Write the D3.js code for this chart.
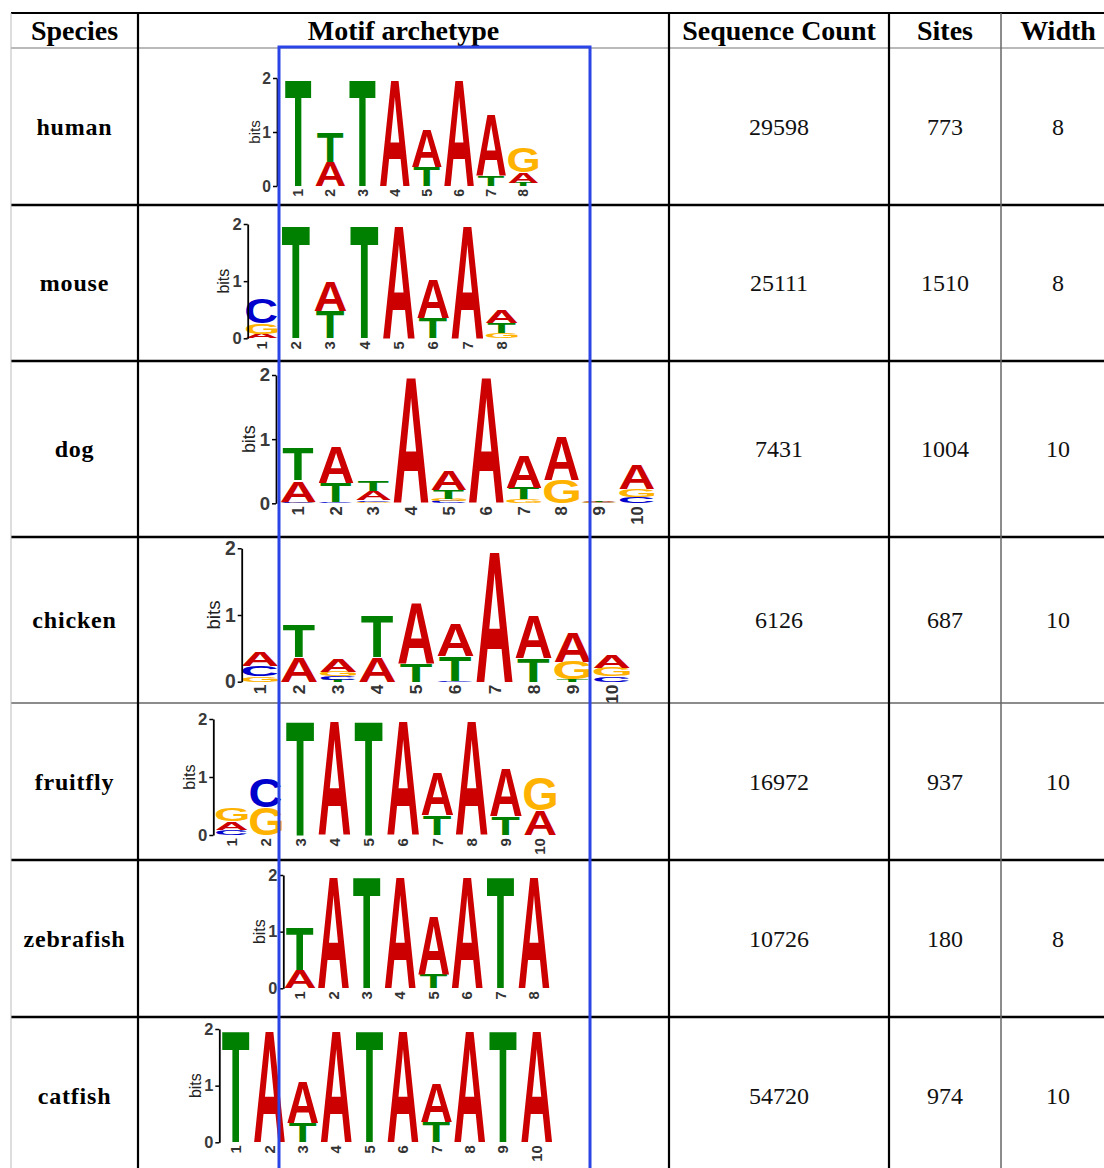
<!DOCTYPE html>
<html>
<head>
<meta charset="utf-8">
<script src="https://cdn.jsdelivr.net/npm/d3@7"></script>
<style>
  html, body { margin: 0; padding: 0; background: #fff; }
  svg { display: block; }
</style>
</head>
<body>
<svg id="chart" width="1104" height="1168"></svg>
<script>
// ---- table content ----
const headers = ["Species", "Motif archetype", "Sequence Count", "Sites", "Width"];
const species = ["human", "mouse", "dog", "chicken", "fruitfly", "zebrafish", "catfish"];
const sequenceCounts = [29598, 25111, 7431, 6126, 16972, 10726, 54720];
const siteCounts = [773, 1510, 1004, 687, 937, 180, 974];
const motifWidths = [8, 8, 10, 10, 10, 8, 10];
const bitTicks = [0, 1, 2];

// ---- motif letter heights (bits) per position ----
const humanMotif = [
  { T: 1.97 }, { A: 0.45, T: 0.54 }, { T: 1.97 }, { A: 1.97 },
  { T: 0.36, A: 0.69 }, { A: 1.97 }, { T: 0.2, A: 1.13 }, { T: 0.06, A: 0.2, G: 0.45 }
];
const mouseMotif = [
  { A: 0.08, G: 0.18, C: 0.44 }, { T: 1.97 }, { T: 0.47, A: 0.51 }, { T: 1.97 },
  { A: 1.97 }, { T: 0.36, A: 0.68 }, { A: 1.97 }, { G: 0.09, T: 0.17, A: 0.23 }
];
const dogMotif = [
  { G: 0.012, C: 0.014, A: 0.33, T: 0.5 }, { C: 0.02, T: 0.3, A: 0.56 },
  { G: 0.025, C: 0.026, A: 0.14, T: 0.16 }, { A: 1.97 },
  { C: 0.03, G: 0.04, T: 0.13, A: 0.31 }, { A: 1.97 },
  { G: 0.06, T: 0.18, A: 0.51 }, { G: 0.36, A: 0.68 },
  { C: 0.008, G: 0.009, T: 0.01, A: 0.012 }, { C: 0.1, G: 0.13, A: 0.39 }
];
const chickenMotif = [
  { G: 0.08, C: 0.15, A: 0.21 }, { A: 0.37, T: 0.49 }, { T: 0.03, C: 0.05, G: 0.07, A: 0.2 },
  { A: 0.37, T: 0.63 }, { T: 0.28, A: 0.91 }, { C: 0.012, T: 0.37, A: 0.48 },
  { A: 1.97 }, { T: 0.35, A: 0.64 }, { T: 0.03, G: 0.27, A: 0.45 }, { C: 0.08, G: 0.13, A: 0.2 }
];
const fruitflyMotif = [
  { C: 0.09, A: 0.14, G: 0.23 }, { G: 0.48, C: 0.5 }, { T: 1.97 }, { A: 1.97 },
  { T: 1.97 }, { A: 1.97 }, { T: 0.34, A: 0.74 }, { A: 1.97 }, { T: 0.32, A: 0.82 }, { A: 0.43, G: 0.56 }
];
const zebrafishMotif = [
  { A: 0.32, T: 0.76 }, { A: 1.97 }, { T: 1.97 }, { A: 1.97 },
  { T: 0.24, A: 1.04 }, { A: 1.97 }, { T: 1.97 }, { A: 1.97 }
];
const catfishMotif = [
  { T: 1.97 }, { A: 1.97 }, { T: 0.34, A: 0.73 }, { A: 1.97 }, { T: 1.97 },
  { A: 1.97 }, { T: 0.36, A: 0.68 }, { A: 1.97 }, { T: 1.97 }, { A: 1.97 }
];
const motifs = [humanMotif, mouseMotif, dogMotif, chickenMotif, fruitflyMotif, zebrafishMotif, catfishMotif];

// ---- layout ----
const colX = [11, 138, 669, 889, 1001, 1115];
const rowY = [13, 48, 205, 361, 537, 703, 860, 1017, 1175];
const hLineStyle = ["#000", "#777", "#000", "#000", "#000", "#666", "#000", "#000"];
const hLineWidth = [2, 1.2, 2.5, 2.5, 2.5, 1.5, 2.5, 2.5];
const vLineStyle = ["#bbb", "#000", "#000", "#000", "#666"];
const vLineWidth = [1, 2.2, 2.2, 2.2, 1.5];

// logo frames: spine x, baseline y, 2-bit y, first column centre, column step
const logoFrames = [
  { axisX: 277, base: 186, top: 78, firstX: 298.3, step: 32.14 },
  { axisX: 247.7, base: 338.3, top: 224, firstX: 261.7, step: 34.29 },
  { axisX: 276, base: 503.3, top: 375, firstX: 298.3, step: 37.6 },
  { axisX: 241.7, base: 681.7, top: 548.3, firstX: 260, step: 39.08 },
  { axisX: 213.3, base: 835, top: 719, firstX: 231.7, step: 34.26 },
  { axisX: 283.3, base: 988.3, top: 875, firstX: 300, step: 33.43 },
  { axisX: 219.3, base: 1142.3, top: 1029, firstX: 236, step: 33.4 }
];

const baseColor = { A: "#cc0000", C: "#0000cc", G: "#ffb300", T: "#008000" };
const serif = "'Liberation Serif', 'Times New Roman', serif";
const sans = "'Liberation Sans', Arial, Helvetica, sans-serif";

const svg = d3.select("#chart");

// ---- glyph ink bounds, measured once ----
const glyphSize = 100;
const measureCtx = document.createElement("canvas").getContext("2d");
measureCtx.font = `bold ${glyphSize}px ${sans}`;
const fallbackInk = {
  A: { l: 0.2, r: 72, a: 71.6, d: 0 }, C: { l: -4, r: 68, a: 73.5, d: 1.5 },
  G: { l: -4, r: 73, a: 73.5, d: 1.5 }, T: { l: -2, r: 59, a: 71.6, d: 0 }
};
const ink = {};
for (const b of "ACGT") {
  const m = measureCtx.measureText(b);
  const l = m.actualBoundingBoxLeft, r = m.actualBoundingBoxRight;
  const a = m.actualBoundingBoxAscent, d = m.actualBoundingBoxDescent;
  ink[b] = (Number.isFinite(a) && a > 0) ? { l, r, a, d } : fallbackInk[b];
}
const inkW = b => ink[b].r + ink[b].l;
const inkH = b => ink[b].a + ink[b].d;

// ---- logos ----
motifs.forEach((motif, i) => {
  const f = logoFrames[i];
  const ppb = (f.base - f.top) / 2;
  const y = d3.scaleLinear().domain([0, 2]).range([f.base, f.top]);
  const x = d3.scaleLinear().domain([1, motif.length])
    .range([f.firstX, f.firstX + (motif.length - 1) * f.step]);
  const sx = (f.step * 0.93) / inkW("A");

  const g = svg.append("g").attr("class", "logo");

  motif.forEach((col, p) => {
    const stack = Object.entries(col).sort((a, b) => a[1] - b[1]);
    let acc = 0;
    stack.forEach(([b, h]) => {
      const yBottom = y(acc), yTop = y(acc + h);
      acc += h;
      const sy = (yBottom - yTop) / inkH(b);
      const cx = x(p + 1);
      const tx = cx - sx * (ink[b].r - ink[b].l) / 2;
      const ty = yBottom - ink[b].d * sy;
      g.append("text")
        .attr("transform", `translate(${tx},${ty}) scale(${sx},${sy})`)
        .attr("font-family", sans)
        .attr("font-weight", "bold")
        .attr("font-size", glyphSize)
        .attr("fill", baseColor[b])
        .text(b);
    });
  });

  // y axis
  const axis = d3.axisLeft(y).tickValues(bitTicks).tickFormat(d3.format("d"))
    .tickSize(4).tickSizeOuter(0).tickPadding(2);
  const ag = g.append("g").attr("transform", `translate(${f.axisX},0)`).call(axis);
  ag.select(".domain").attr("stroke", "#000").attr("stroke-width", 1.8);
  ag.selectAll(".tick line").attr("stroke", "#000").attr("stroke-width", 1.5);
  ag.selectAll(".tick text")
    .attr("font-family", sans).attr("font-weight", "bold")
    .attr("font-size", ppb * 0.29).attr("fill", "#3a3a3a");

  // "bits" label
  g.append("text")
    .attr("transform", `translate(${f.axisX - ppb * 0.42},${y(1)}) rotate(-90)`)
    .attr("text-anchor", "middle").attr("dy", "0.35em")
    .attr("font-family", sans).attr("font-size", ppb * 0.28).attr("fill", "#222")
    .text("bits");

  // position numbers
  g.selectAll("text.pos").data(d3.range(1, motif.length + 1)).join("text")
    .attr("class", "pos")
    .attr("transform", d => `translate(${x(d)},${f.base + 3}) rotate(-90)`)
    .attr("text-anchor", "end").attr("dy", "0.35em")
    .attr("font-family", sans).attr("font-weight", "bold")
    .attr("font-size", ppb * 0.26).attr("fill", "#333")
    .text(d => d);
});

// ---- table grid ----
const grid = svg.append("g").attr("class", "grid");
rowY.slice(0, 8).forEach((yy, k) => {
  grid.append("line").attr("x1", colX[0]).attr("x2", 1104).attr("y1", yy).attr("y2", yy)
    .attr("stroke", hLineStyle[k]).attr("stroke-width", hLineWidth[k]);
});
colX.slice(0, 5).forEach((xx, k) => {
  grid.append("line").attr("x1", xx).attr("x2", xx).attr("y1", rowY[0]).attr("y2", 1168)
    .attr("stroke", vLineStyle[k]).attr("stroke-width", vLineWidth[k]);
});

// header
const colMid = d3.range(5).map(k => (colX[k] + colX[k + 1]) / 2);
svg.append("g").selectAll("text").data(headers).join("text")
  .attr("x", (d, k) => colMid[k]).attr("y", 40)
  .attr("text-anchor", "middle")
  .attr("font-family", serif).attr("font-weight", "bold").attr("font-size", 28)
  .attr("fill", "#000")
  .text(d => d);

// body cells
const rowMid = d3.range(7).map(k => (rowY[k + 1] + rowY[k + 2]) / 2);
const body = svg.append("g");
body.selectAll("text.sp").data(species).join("text")
  .attr("class", "sp")
  .attr("x", colMid[0]).attr("y", (d, k) => rowMid[k] + 8)
  .attr("text-anchor", "middle")
  .attr("font-family", serif).attr("font-weight", "bold").attr("font-size", 24)
  .attr("letter-spacing", 0.8).attr("fill", "#000")
  .text(d => d);
[sequenceCounts, siteCounts, motifWidths].forEach((vals, c) => {
  body.selectAll(`text.c${c}`).data(vals).join("text")
    .attr("class", `c${c}`)
    .attr("x", colMid[c + 2]).attr("y", (d, k) => rowMid[k] + 8)
    .attr("text-anchor", "middle")
    .attr("font-family", serif).attr("font-size", 24).attr("fill", "#111")
    .text(d => d);
});

// highlight frame over the core motif columns
svg.append("rect")
  .attr("x", 279).attr("y", 47).attr("width", 311).attr("height", 1140)
  .attr("fill", "none").attr("stroke", "#2a44e6").attr("stroke-width", 3);
</script>
</body>
</html>
